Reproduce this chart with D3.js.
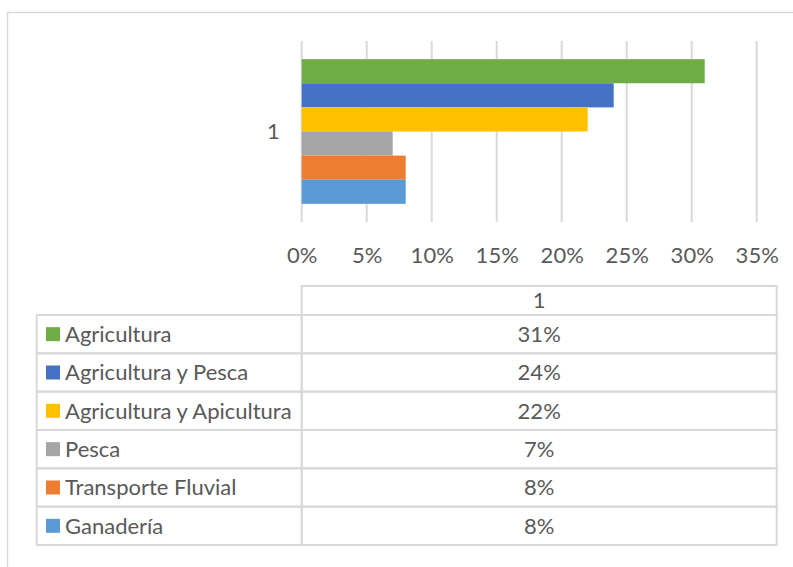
<!DOCTYPE html>
<html>
<head>
<meta charset="utf-8">
<script src="https://cdn.jsdelivr.net/npm/d3@7"></script>
<style>
  html, body { margin: 0; padding: 0; background: #fff; }
  svg { display: block; }
  text { font-family: "Lato", "Open Sans", sans-serif; fill: #595959; }
</style>
</head>
<body>
<svg id="chart" width="793" height="567"></svg>
<script>
// Category axis entries and the series drawn within each category
const categories = ["1"];
const seriesNames = ["Agricultura", "Agricultura y Pesca", "Agricultura y Apicultura", "Pesca", "Transporte Fluvial", "Ganadería"];
const seriesValues = [0.31, 0.24, 0.22, 0.07, 0.08, 0.08];
const seriesColors = ["#70AD47", "#4472C4", "#FFC000", "#A5A5A5", "#ED7D31", "#5B9BD5"];
const xTicks = [0, 0.05, 0.10, 0.15, 0.20, 0.25, 0.30, 0.35];

const svg = d3.select("#chart");
const fontSize = 22;
const gridColor = "#D9D9D9";

// Chart-area frame
svg.append("rect")
  .attr("x", 7.5).attr("y", 12.5)
  .attr("width", 800).attr("height", 600)
  .attr("fill", "none").attr("stroke", gridColor).attr("stroke-width", 1.5);

// Plot area
const plot = { left: 301.7, right: 756.7, top: 41, bottom: 222 };

const x = d3.scaleLinear().domain([0, 0.35]).range([plot.left, plot.right]);
const yCat = d3.scaleBand().domain(categories).range([plot.top, plot.bottom]).paddingOuter(0.1255).paddingInner(0);
const ySeries = d3.scaleBand().domain(seriesNames).range([0, yCat.bandwidth()]).padding(0);

// Vertical gridlines
const xAxis = d3.axisBottom(x).tickValues(xTicks).tickSize(0).tickFormat(d3.format(".0%"));
svg.append("g")
  .selectAll("line")
  .data(xTicks)
  .join("line")
  .attr("x1", d => x(d)).attr("x2", d => x(d))
  .attr("y1", plot.top).attr("y2", plot.bottom)
  .attr("stroke", gridColor).attr("stroke-width", 2);

// Bars
const catG = svg.append("g")
  .selectAll("g")
  .data(categories)
  .join("g")
  .attr("transform", c => `translate(0,${yCat(c)})`);

catG.selectAll("rect")
  .data(seriesNames.map((n, i) => ({ name: n, value: seriesValues[i], color: seriesColors[i] })))
  .join("rect")
  .attr("x", x(0))
  .attr("y", d => ySeries(d.name))
  .attr("width", d => x(d.value) - x(0))
  .attr("height", ySeries.bandwidth())
  .attr("fill", d => d.color);

// Value axis labels
const gx = svg.append("g")
  .attr("transform", `translate(0,${plot.bottom + 22})`)
  .call(xAxis);
gx.select(".domain").remove();
gx.selectAll("text")
  .attr("font-size", fontSize)
  .attr("font-family", null)
  .attr("fill", "#595959");

// Category axis label
const yAxis = d3.axisLeft(yCat).tickSize(0).tickPadding(22);
const gy = svg.append("g")
  .attr("transform", `translate(${plot.left},0)`)
  .call(yAxis);
gy.select(".domain").remove();
gy.selectAll("text")
  .attr("font-size", fontSize)
  .attr("font-family", null)
  .attr("fill", "#595959");

// Data table beneath the plot
const table = { left: 36.7, split: 301.7, right: 776.7, headTop: 286, headBottom: 315, rowH: 38.33 };
const rows = d3.scaleBand()
  .domain(seriesNames)
  .range([table.headBottom, table.headBottom + table.rowH * seriesNames.length]);
const tg = svg.append("g");
const lineAttrs = sel => sel.attr("stroke", gridColor).attr("stroke-width", 2).attr("fill", "none");

// Header cell
tg.append("rect")
  .attr("x", table.split).attr("y", table.headTop)
  .attr("width", table.right - table.split).attr("height", table.headBottom - table.headTop)
  .call(lineAttrs);
tg.append("text")
  .attr("x", (table.split + table.right) / 2)
  .attr("y", (table.headTop + table.headBottom) / 2)
  .attr("dy", "0.35em")
  .attr("text-anchor", "middle")
  .attr("font-size", fontSize)
  .text(categories[0]);

// Body rows
const rowG = tg.selectAll("g.row")
  .data(seriesNames.map((n, i) => ({ name: n, value: seriesValues[i], color: seriesColors[i] })))
  .join("g")
  .attr("class", "row")
  .attr("transform", d => `translate(0,${rows(d.name)})`);

rowG.append("rect")
  .attr("x", table.left).attr("y", 0)
  .attr("width", table.split - table.left).attr("height", rows.bandwidth())
  .call(lineAttrs);
rowG.append("rect")
  .attr("x", table.split).attr("y", 0)
  .attr("width", table.right - table.split).attr("height", rows.bandwidth())
  .call(lineAttrs);
rowG.append("rect")
  .attr("x", 46).attr("y", rows.bandwidth() / 2 - 7)
  .attr("width", 14).attr("height", 14)
  .attr("fill", d => d.color);
rowG.append("text")
  .attr("x", 65).attr("y", rows.bandwidth() / 2)
  .attr("dy", "0.35em")
  .attr("font-size", fontSize)
  .text(d => d.name);
rowG.append("text")
  .attr("x", (table.split + table.right) / 2).attr("y", rows.bandwidth() / 2)
  .attr("dy", "0.35em")
  .attr("text-anchor", "middle")
  .attr("font-size", fontSize)
  .text(d => d3.format(".0%")(d.value));
</script>
</body>
</html>
